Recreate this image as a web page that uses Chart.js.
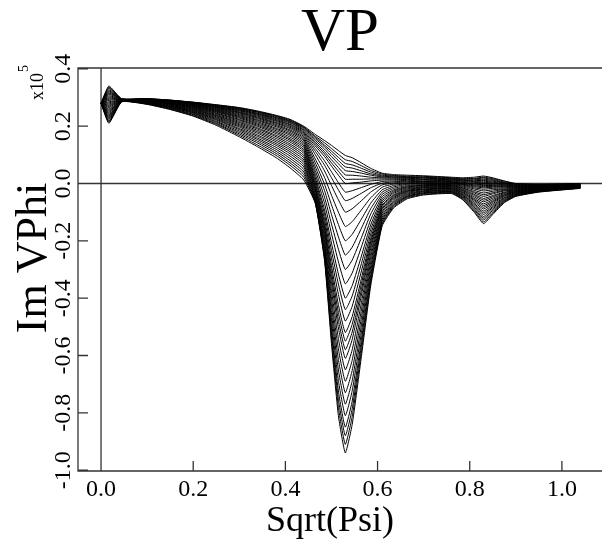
<!DOCTYPE html>
<html>
<head>
<meta charset="utf-8">
<title>VP</title>
<script src="https://cdn.jsdelivr.net/npm/chart.js@4.4.1/dist/chart.umd.min.js"></script>
<style>
  html, body { margin: 0; padding: 0; background: #fff; }
  #wrap { width: 602px; height: 542px; }
</style>
</head>
<body>
<div id="wrap"><canvas id="vp" width="602" height="542"></canvas></div>
<script>
"use strict";

// x positions (Sqrt(Psi)) shared by every curve
const psi = [0, 0.017, 0.045, 0.1, 0.15, 0.2, 0.25, 0.3, 0.34, 0.38, 0.41, 0.44,
             0.465, 0.485, 0.5, 0.515, 0.53, 0.545, 0.565, 0.585, 0.61, 0.635, 0.665, 0.7,
             0.76, 0.785, 0.81, 0.83, 0.85, 0.875, 0.9, 0.95, 1.04];

// Im VPhi (x10^5), one row per curve, deepest dip first
const imVPhi = [
  [0.28, .210, .285, .276, .258, .235, .203, .163, .128, .090, .055, .012, -.070, -.270, -.559, -.810, -.94, -.840, -.603, -.358, -.148, -.085, -.053, -.040, -.035, -.057, -.101, -.140, -.108, -.067, -.045, -.030, -.017],
  [0.28, .214, .286, .277, .260, .237, .207, .168, .134, .098, .064, .022, -.068, -.263, -.540, -.781, -.91, -.813, -.584, -.346, -.143, -.081, -.050, -.038, -.033, -.055, -.097, -.134, -.104, -.065, -.044, -.029, -.016],
  [0.28, .218, .286, .278, .261, .240, .210, .173, .141, .105, .072, .031, -.066, -.257, -.521, -.753, -.88, -.786, -.564, -.333, -.137, -.077, -.047, -.035, -.031, -.052, -.092, -.127, -.099, -.062, -.042, -.028, -.016],
  [0.28, .223, .286, .279, .263, .242, .214, .178, .147, .112, .080, .040, -.062, -.249, -.502, -.724, -.85, -.759, -.544, -.321, -.131, -.074, -.045, -.033, -.029, -.049, -.088, -.121, -.094, -.060, -.041, -.027, -.015],
  [0.28, .227, .287, .280, .265, .245, .217, .183, .153, .119, .088, .049, -.058, -.238, -.477, -.687, -.81, -.723, -.519, -.306, -.125, -.070, -.043, -.032, -.028, -.047, -.083, -.115, -.089, -.057, -.039, -.027, -.015],
  [0.28, .231, .287, .281, .266, .247, .221, .188, .158, .126, .096, .058, -.052, -.226, -.451, -.650, -.77, -.688, -.493, -.291, -.118, -.066, -.040, -.029, -.026, -.044, -.078, -.108, -.084, -.054, -.038, -.026, -.014],
  [0.28, .235, .288, .282, .268, .249, .224, .192, .164, .133, .104, .066, -.047, -.214, -.425, -.614, -.73, -.652, -.467, -.275, -.111, -.062, -.037, -.027, -.024, -.041, -.074, -.102, -.080, -.051, -.036, -.025, -.014],
  [0.28, .239, .288, .283, .269, .251, .227, .197, .169, .139, .111, .074, -.041, -.201, -.400, -.577, -.69, -.616, -.441, -.259, -.104, -.057, -.034, -.025, -.022, -.039, -.070, -.096, -.075, -.049, -.035, -.024, -.013],
  [0.28, .244, .289, .283, .270, .253, .230, .201, .175, .145, .118, .082, -.034, -.187, -.373, -.541, -.65, -.580, -.415, -.244, -.098, -.053, -.031, -.022, -.020, -.036, -.065, -.089, -.070, -.045, -.033, -.023, -.013],
  [0.28, .248, .289, .284, .272, .255, .233, .205, .180, .151, .125, .090, -.026, -.173, -.348, -.504, -.61, -.544, -.389, -.228, -.091, -.049, -.028, -.020, -.018, -.033, -.060, -.083, -.065, -.043, -.032, -.022, -.012],
  [0.28, .252, .290, .285, .273, .257, .236, .209, .185, .157, .132, .097, -.021, -.163, -.328, -.477, -.58, -.518, -.370, -.216, -.086, -.046, -.026, -.019, -.017, -.031, -.056, -.077, -.061, -.040, -.030, -.021, -.011],
  [0.28, .256, .290, .286, .274, .259, .238, .213, .190, .163, .138, .105, -.014, -.152, -.308, -.450, -.55, -.491, -.350, -.204, -.080, -.042, -.024, -.016, -.015, -.028, -.052, -.071, -.056, -.038, -.029, -.020, -.011],
  [0.28, .260, .290, .287, .276, .261, .241, .217, .194, .168, .145, .112, -.007, -.140, -.287, -.423, -.52, -.464, -.331, -.192, -.075, -.039, -.021, -.014, -.013, -.025, -.047, -.064, -.051, -.035, -.028, -.020, -.010],
  [0.28, .265, .291, .287, .277, .263, .244, .221, .199, .174, .151, .118, .001, -.125, -.261, -.387, -.48, -.428, -.305, -.177, -.068, -.034, -.018, -.012, -.011, -.023, -.042, -.058, -.046, -.032, -.026, -.019, -.010],
  [0.28, .269, .291, .288, .278, .264, .246, .224, .203, .179, .156, .125, .011, -.108, -.234, -.351, -.44, -.392, -.279, -.161, -.061, -.030, -.015, -.010, -.009, -.020, -.038, -.052, -.042, -.030, -.025, -.018, -.009],
  [0.28, .273, .291, .289, .279, .266, .249, .228, .207, .184, .162, .131, .020, -.092, -.208, -.316, -.40, -.356, -.253, -.145, -.054, -.026, -.012, -.007, -.007, -.017, -.033, -.045, -.036, -.026, -.023, -.017, -.009],
  [0.28, .277, .292, .289, .280, .268, .251, .231, .211, .189, .168, .137, .032, -.070, -.175, -.273, -.35, -.312, -.221, -.127, -.046, -.022, -.010, -.006, -.006, -.015, -.029, -.039, -.032, -.024, -.022, -.016, -.008],
  [0.28, .281, .292, .290, .281, .269, .253, .234, .215, .193, .173, .143, .045, -.048, -.141, -.229, -.30, -.267, -.189, -.107, -.038, -.017, -.007, -.004, -.004, -.012, -.024, -.033, -.027, -.021, -.020, -.015, -.008],
  [0.28, .285, .292, .291, .282, .271, .255, .237, .219, .198, .178, .149, .058, -.025, -.108, -.186, -.25, -.222, -.156, -.088, -.030, -.012, -.003, -.001, -.002, -.009, -.019, -.026, -.022, -.019, -.019, -.014, -.007],
  [0.28, .290, .293, .291, .283, .272, .257, .240, .222, .202, .183, .154, .072, -.003, -.074, -.143, -.20, -.177, -.124, -.069, -.022, -.007, .000, .001, .000, -.006, -.015, -.020, -.017, -.016, -.017, -.013, -.007],
  [0.28, .294, .293, .292, .284, .273, .259, .243, .226, .206, .187, .159, .085, .021, -.041, -.100, -.15, -.133, -.092, -.050, -.013, -.002, .003, .003, .002, -.004, -.011, -.015, -.013, -.013, -.016, -.013, -.006],
  [0.28, .298, .293, .292, .285, .275, .261, .246, .229, .210, .192, .164, .100, .044, -.007, -.057, -.10, -.088, -.060, -.030, -.005, .002, .006, .006, .004, -.002, -.008, -.011, -.010, -.011, -.014, -.012, -.005],
  [0.28, .302, .293, .293, .286, .276, .263, .248, .232, .213, .196, .169, .112, .064, .020, -.022, -.06, -.052, -.034, -.015, .001, .006, .008, .007, .005, .000, -.005, -.007, -.007, -.009, -.013, -.011, -.005],
  [0.28, .306, .294, .293, .286, .277, .265, .250, .235, .217, .200, .173, .122, .079, .041, .003, -.03, -.025, -.014, -.003, .007, .009, .011, .009, .007, .002, -.002, -.004, -.004, -.007, -.011, -.010, -.004],
  [0.28, .311, .294, .294, .287, .278, .266, .253, .238, .220, .204, .177, .131, .094, .061, .029, .000, .002, .005, .009, .012, .013, .014, .012, .009, .004, .001, .000, -.001, -.005, -.010, -.009, -.004],
  [0.28, .315, .294, .294, .288, .279, .268, .255, .241, .223, .207, .181, .138, .103, .072, .043, .015, .015, .015, .016, .016, .016, .016, .014, .011, .007, .004, .004, .002, -.003, -.009, -.008, -.003],
  [0.28, .319, .294, .294, .288, .280, .269, .257, .243, .226, .211, .185, .144, .111, .083, .056, .030, .029, .026, .022, .020, .019, .018, .016, .013, .009, .007, .008, .005, -.001, -.007, -.007, -.003],
  [0.28, .323, .294, .295, .289, .281, .271, .259, .245, .229, .214, .188, .150, .120, .094, .069, .045, .042, .036, .029, .023, .022, .021, .019, .015, .011, .010, .011, .008, .001, -.006, -.006, -.002],
  [0.28, .327, .295, .295, .290, .282, .272, .261, .248, .231, .217, .192, .156, .128, .104, .080, .058, .054, .044, .034, .026, .023, .022, .020, .016, .013, .013, .015, .011, .003, -.004, -.006, -.002],
  [0.28, .332, .295, .295, .290, .283, .273, .262, .250, .234, .219, .195, .161, .134, .113, .091, .070, .065, .053, .040, .029, .026, .024, .022, .018, .015, .016, .019, .014, .005, -.003, -.005, -.001],
  [0.28, .336, .295, .296, .291, .283, .274, .264, .251, .236, .222, .197, .165, .142, .122, .102, .083, .077, .062, .046, .033, .028, .026, .025, .020, .017, .018, .022, .017, .008, -.001, -.004, -.001],
  [0.28, .340, .295, .296, .291, .284, .275, .265, .253, .238, .224, .200, .171, .150, .133, .115, .098, .090, .072, .053, .036, .031, .029, .027, .022, .020, .022, .026, .020, .009, .000, -.003, .000]
];

// axis ticks
const xTicks = [0, 0.2, 0.4, 0.6, 0.8, 1.0];
const xTickLabels = ['0.0', '0.2', '0.4', '0.6', '0.8', '1.0'];
const yTicks = [-1.0, -0.8, -0.6, -0.4, -0.2, 0, 0.2, 0.4];
const yTickLabels = ['-1.0', '-0.8', '-0.6', '-0.4', '-0.2', '0.0', '0.2', '0.4'];

const SERIF = '"Liberation Serif", "DejaVu Serif", serif';

// Frame, zero lines, inward ticks and all the text
const framePlugin = {
    id: 'frame',
    beforeDatasetsDraw(chart) {
        const { ctx, chartArea: a, scales: { x, y } } = chart;
        ctx.save();
        ctx.strokeStyle = '#333';
        ctx.lineWidth = 1.3;
        ctx.beginPath();
        ctx.moveTo(a.right, a.top);
        ctx.lineTo(a.left, a.top);
        ctx.lineTo(a.left, a.bottom);
        ctx.lineTo(a.right, a.bottom);

        const x0 = x.getPixelForValue(0);
        const y0 = y.getPixelForValue(0);
        ctx.moveTo(a.left, y0);
        ctx.lineTo(a.right, y0);
        ctx.moveTo(x0, a.top);
        ctx.lineTo(x0, a.bottom);

        xTicks.forEach(v => {
            const px = x.getPixelForValue(v);
            ctx.moveTo(px, a.bottom);
            ctx.lineTo(px, a.bottom - 10);
        });
        yTicks.forEach(v => {
            const py = y.getPixelForValue(v);
            ctx.moveTo(a.left, py);
            ctx.lineTo(a.left + 10, py);
        });
        ctx.stroke();
        ctx.restore();
    },
    afterDraw(chart) {
        const { ctx, chartArea: a, scales: { x, y } } = chart;
        ctx.save();
        ctx.fillStyle = '#000';

        // title
        ctx.font = '61px ' + SERIF;
        ctx.textAlign = 'center';
        ctx.textBaseline = 'alphabetic';
        ctx.fillText('VP', (a.left + a.right) / 2, 50);

        // x tick labels
        ctx.font = '24px ' + SERIF;
        xTicks.forEach((v, i) => {
            ctx.fillText(xTickLabels[i], x.getPixelForValue(v), 496);
        });

        // x title
        ctx.font = '36px ' + SERIF;
        ctx.fillText('Sqrt(Psi)', 330, 531);

        // y tick labels, rotated
        ctx.font = '24px ' + SERIF;
        yTicks.forEach((v, i) => {
            ctx.save();
            ctx.translate(70, y.getPixelForValue(v));
            ctx.rotate(-Math.PI / 2);
            ctx.textAlign = 'center';
            ctx.fillText(yTickLabels[i], 0, 0);
            ctx.restore();
        });

        // y title
        ctx.save();
        ctx.translate(46, 258);
        ctx.rotate(-Math.PI / 2);
        ctx.font = '44px ' + SERIF;
        ctx.textAlign = 'center';
        ctx.fillText('Im VPhi', 0, 0);
        ctx.restore();

        // scale factor x10^5
        ctx.save();
        ctx.translate(43, 100);
        ctx.rotate(-Math.PI / 2);
        ctx.textAlign = 'left';
        ctx.font = '18px ' + SERIF;
        ctx.fillText('x10', 0, 0);
        const w = ctx.measureText('x10').width;
        ctx.font = '14px ' + SERIF;
        ctx.fillText('5', w + 1, -15);
        ctx.restore();

        ctx.restore();
    }
};

document.addEventListener('DOMContentLoaded', () => {
    const ctx = document.getElementById('vp').getContext('2d');

    const datasets = imVPhi.map(row => ({
        data: row.map((v, i) => ({ x: psi[i], y: v })),
        borderColor: '#000',
        borderWidth: 1,
        pointRadius: 0,
        tension: 0.15,
        fill: false
    }));

    new Chart(ctx, {
        type: 'line',
        data: { datasets },
        options: {
            responsive: false,
            animation: false,
            events: [],
            layout: { padding: { left: 78, top: 68, right: 0, bottom: 71 } },
            plugins: {
                legend: { display: false },
                tooltip: { enabled: false },
                title: { display: false }
            },
            scales: {
                x: { type: 'linear', min: -0.05, max: 1.087, display: false },
                y: { type: 'linear', min: -1.003, max: 0.403, display: false }
            }
        },
        plugins: [framePlugin]
    });
});
</script>
</body>
</html>
